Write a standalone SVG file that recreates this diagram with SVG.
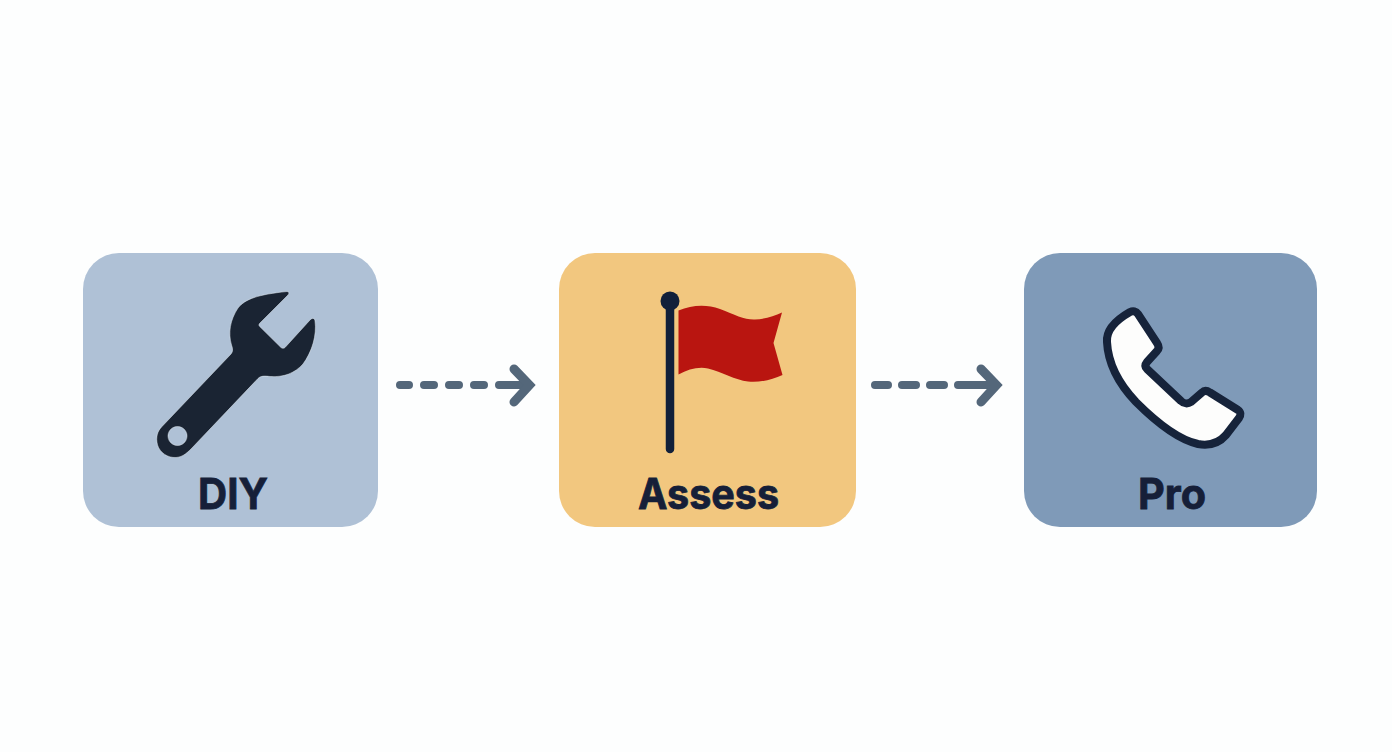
<svg xmlns="http://www.w3.org/2000/svg" width="1392" height="752" viewBox="0 0 1392 752">
<style>
.box{stroke:none}
.lbl{font-family:Inter,"Liberation Sans",sans-serif;font-weight:700;font-size:42px;fill:#161f38;stroke:#161f38;stroke-width:.8;text-anchor:middle}
.dash{fill:none;stroke:#54677a;stroke-width:8;stroke-linecap:round}
.head{fill:none;stroke:#54677a;stroke-width:9;stroke-linecap:round;stroke-linejoin:miter}
.ink{fill:#1a2433}
</style>
<rect width="1392" height="752" fill="#fdfefe"/>
<g id="connectors">
<path class="dash" d="M400 385H409M424 385H434M449 385H459M474 385H484M499 385H528"/>
<path class="head" d="M514 369L529.500 385L514 402"/>
<path class="dash" d="M875 385H888M902 385H916M930 385H944M958 385H994"/>
<path class="head" d="M981 369L996.500 385L981 402"/>
</g>
<g id="node-diy">
<rect class="box" x="83" y="253" width="295" height="274" rx="36" fill="#afc1d6"/>
<path class="ink" fill-rule="evenodd" stroke="#e6edf3" stroke-opacity=".5" stroke-width="1" d="M287 291.500C289 291.500 289.500 293.500 288 295L259.500 323.500C258.800 324.300 258.800 325.500 259.500 326.300L281 347.500C282 348.500 284 348.500 285 347.500L310 320C312 317.500 315 318 315 321C317 335 312 352 303 364C295 373 284 377.500 270 376.500C265 376 261 375.500 258 378.500L191 449C186 454 182 457 176 457.500C168 458 160 453 157.500 445C155.500 437 157.500 431 162 426.500L231 354C233 351.500 233 349 231.500 345C228 333 230 320 238 308C245 299 258 294.500 287 291.500ZM177.500 426.500a9.500 9.500 0 1 0 .01 0Z"/>
<text class="lbl" x="233" y="509" textLength="70" lengthAdjust="spacingAndGlyphs">DIY</text>
</g>
<g id="node-assess">
<rect class="box" x="559" y="253" width="297" height="274" rx="36" fill="#f2c77f"/>
<path fill="#b91510" d="M678.500 310.500C692 305 706 304 720 309C735 315 745 320 755 319.500C765 319 774 316 782 312.500L773.500 343L782.500 375C772 380 760 382.500 748 381.500C735 380 722 372 708 368.500C698 366.500 688 369.500 678.500 374.500Z"/>
<path d="M670 301V449" fill="none" stroke="#12203a" stroke-width="8.500" stroke-linecap="round"/>
<circle cx="670" cy="301" r="9.500" fill="#12203a"/>
<text class="lbl" x="708.500" y="509" textLength="141" lengthAdjust="spacingAndGlyphs">Assess</text>
</g>
<g id="node-pro">
<rect class="box" x="1024" y="253" width="293" height="274" rx="36" fill="#7f9ab8"/>
<path fill="#fdfdfc" stroke="#16233a" stroke-width="8" stroke-linejoin="round" d="M1130 312C1133 310.500 1136 311 1138 314L1157 343C1159 346 1159 349 1157 351L1147 362C1145 364.500 1145 367 1147 369L1181 401C1184 404 1188 404 1191 402L1202 392.500C1204 390.500 1207 390.500 1210 392.500L1238 410C1241 412 1241 415 1239 418L1226 435C1219 443 1209 446 1198 444C1180 440 1158 424 1136 402C1118 383 1108 362 1107 342C1106 330 1116 320 1130 312Z"/>
<text class="lbl" x="1172" y="509" textLength="68" lengthAdjust="spacingAndGlyphs">Pro</text>
</g>
</svg>
